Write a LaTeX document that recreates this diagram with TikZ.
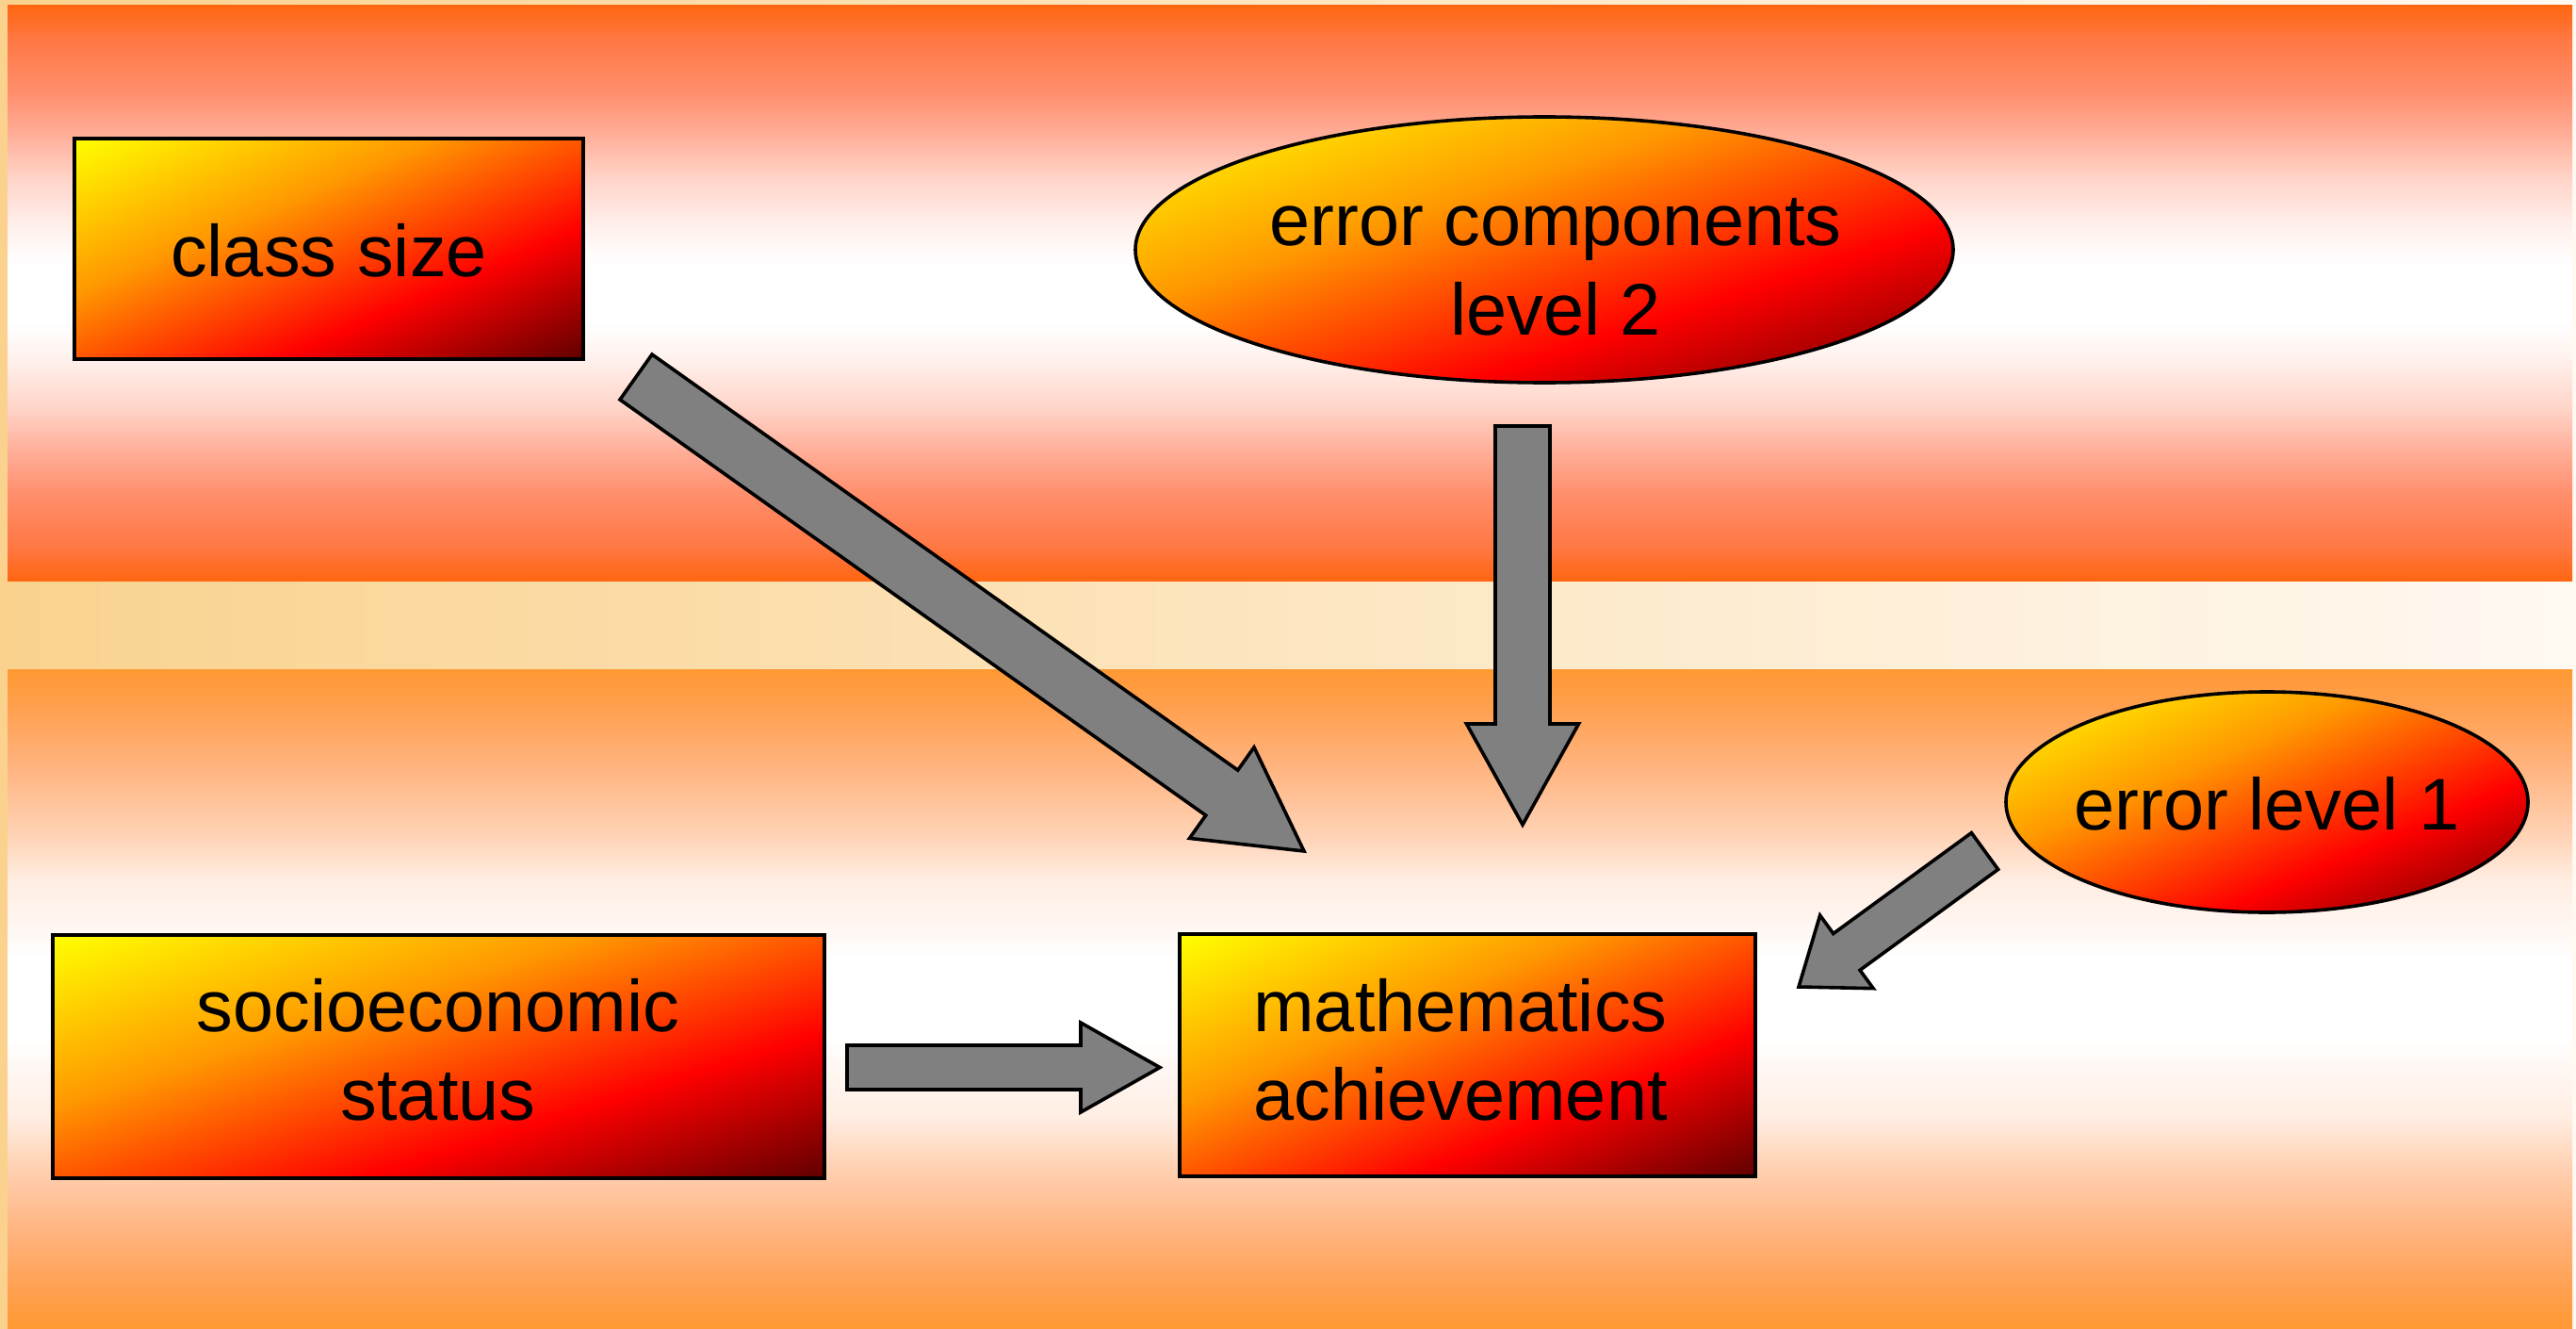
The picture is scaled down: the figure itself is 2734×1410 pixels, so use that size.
\documentclass[tikz,border=0pt]{standalone}
\usepackage{fontspec}
\setmainfont{Liberation Sans}
\usetikzlibrary{calc,shapes.geometric}
\definecolor{bgL}{HTML}{FAD28E}
\definecolor{bgR}{HTML}{FFF9F2}
\definecolor{tA}{HTML}{FF6611}
\definecolor{tB}{HTML}{FF7844}
\definecolor{tC}{HTML}{FF8E6C}
\definecolor{tD}{HTML}{FFAE98}
\definecolor{tE}{HTML}{FFD4C8}
\definecolor{tF}{HTML}{FFF2EE}
\definecolor{bA}{HTML}{FF9933}
\definecolor{bB}{HTML}{FFA050}
\definecolor{bC}{HTML}{FFB37E}
\definecolor{bD}{HTML}{FFD2B4}
\definecolor{bE}{HTML}{FFEDE2}
\definecolor{bF}{HTML}{FFF8F4}
\definecolor{fY}{HTML}{FFFF00}
\definecolor{fO}{HTML}{FF9900}
\definecolor{fR}{HTML}{FF0000}
\definecolor{fD}{HTML}{600000}
\definecolor{arrG}{HTML}{808080}
\pgfdeclarehorizontalshading{fire}{100bp}{color(0bp)=(fY); color(25bp)=(fY); color(42.5bp)=(fO); color(60bp)=(fR); color(75bp)=(fD); color(100bp)=(fD)}
\pgfdeclareverticalshading{topband}{100bp}{color(0bp)=(tA); color(25bp)=(tA); color(28bp)=(tB); color(32.5bp)=(tC); color(36.25bp)=(tD); color(40bp)=(tE); color(44.5bp)=(tF); color(47.5bp)=(white); color(52.5bp)=(white); color(55.5bp)=(tF); color(60bp)=(tE); color(63.75bp)=(tD); color(67.5bp)=(tC); color(72bp)=(tB); color(75bp)=(tA); color(100bp)=(tA)}
\pgfdeclareverticalshading{botband}{100bp}{color(0bp)=(bA); color(25bp)=(bA); color(28bp)=(bB); color(32.25bp)=(bC); color(37.5bp)=(bD); color(41bp)=(bE); color(45bp)=(bF); color(47bp)=(white); color(53bp)=(white); color(55bp)=(bF); color(59bp)=(bE); color(62.5bp)=(bD); color(67.75bp)=(bC); color(72bp)=(bB); color(75bp)=(bA); color(100bp)=(bA)}
\tikzset{
  outline/.style={draw=black, line width=3.6pt, inner sep=0pt, outer sep=0pt},
  lbl/.style={inner sep=0pt, anchor=base, font=\fontsize{77.5}{94}\selectfont, text=black},
  blockarrow/.style={draw=black, fill=arrG, line width=3.6pt, line join=miter},
}
% diagonal "fire" fill: #1 clip path, #2 left x, #3 top y, #4 width, #5 height (px)
\newcommand{\firefill}[5]{%
  \begin{scope}
    \clip #1;
    \pgfmathsetmacro{\fa}{#4/100}\pgfmathsetmacro{\fd}{#5/100}\pgfmathsetmacro{\fb}{-#5/100}%
    \begin{scope}[transform canvas={cm={\fa,\fb,\fa,\fd,(#2pt,-#3pt)}}]
      \shade[shading=fire] (0pt,-50pt) rectangle (100pt,50pt);
    \end{scope}
  \end{scope}}
\newcommand{\blockarr}[5]{%
  \coordinate (sh) at ($(#2)!#5!(#1)$);
  \draw[blockarrow] ($(#1)!#3!90:(#2)$) -- ($(sh)!#3!90:(#2)$) -- ($(sh)!#4!90:(#2)$) -- (#2)
    -- ($(sh)!#4!-90:(#2)$) -- ($(sh)!#3!-90:(#2)$) -- ($(#1)!#3!-90:(#2)$) -- cycle;
}
\begin{document}
\begin{tikzpicture}[x=1pt,y=-1pt]
\useasboundingbox (0,0) rectangle (2734,1410);
% background
\fill[left color=bgL, right color=bgR] (0,0) rectangle (2734,1410);
\shade[shading=topband] (8,6) rectangle (2730,616);
\shade[shading=botband] (8,710) rectangle (2730,1410);
% fills
\firefill{(79,147) rectangle (619,381)}{79}{147}{540}{234}
\firefill{(1639,265) ellipse [x radius=434pt, y radius=141pt]}{1205}{124}{868}{282}
\firefill{(2406,851) ellipse [x radius=277pt, y radius=117pt]}{2129}{734}{554}{234}
\firefill{(56,992) rectangle (875,1250)}{56}{992}{819}{258}
\firefill{(1252,991) rectangle (1863,1248)}{1252}{991}{611}{257}
% shapes
\node[outline, rectangle, minimum width=540pt, minimum height=234pt] (cls) at (349,264) {};
\node[outline, ellipse, minimum width=868pt, minimum height=282pt] (ec) at (1639,265) {};
\node[outline, ellipse, minimum width=554pt, minimum height=234pt] (el) at (2406,851) {};
\node[outline, rectangle, minimum width=819pt, minimum height=258pt] (ses) at (465.5,1121) {};
\node[outline, rectangle, minimum width=611pt, minimum height=257pt] (ma) at (1557.5,1119.5) {};
% labels
\node[lbl] (clsT) at (349,293) {class size};
\node[lbl] (ecT1) at (1651,260) {error components};
\node[lbl] (ecT2) at (1651,355) {level 2};
\node[lbl] (elT) at (2406,880) {error level 1};
\node[lbl] (sesT1) at (465,1094) {socioeconomic};
\node[lbl] (sesT2) at (465,1188) {status};
\node[lbl] (maT1) at (1550,1094) {mathematics};
\node[lbl] (maT2) at (1550,1188) {achievement};
% arrows
\coordinate (aAs) at (675,400);    \coordinate (aAe) at (1384,903);
\coordinate (aBs) at (1616,452);   \coordinate (aBe) at (1616,875);
\coordinate (aCs) at (899,1132.5); \coordinate (aCe) at (1231,1132.5);
\coordinate (aDs) at (2106.5,903); \coordinate (aDe) at (1909,1047);
\blockarr{aAs}{aAe}{29.4pt}{59.2pt}{107pt}
\blockarr{aBs}{aBe}{29pt}{59.5pt}{107pt}
\blockarr{aCs}{aCe}{23.5pt}{47.5pt}{84pt}
\blockarr{aDs}{aDe}{24pt}{48pt}{63pt}
\end{tikzpicture}
\end{document}
